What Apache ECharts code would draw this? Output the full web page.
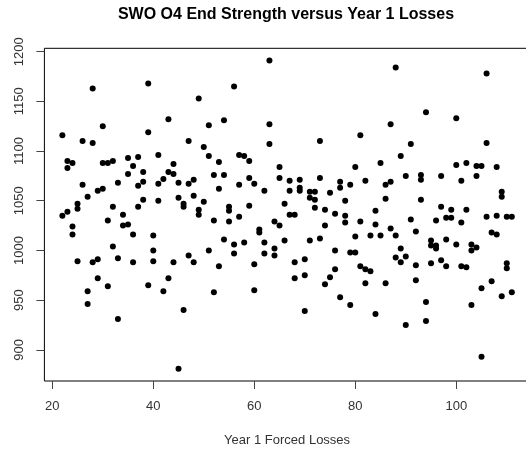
<!DOCTYPE html>
<html>
<head>
<meta charset="utf-8">
<script src="https://cdn.jsdelivr.net/npm/echarts@6/dist/echarts.min.js"></script>
<style>
  html, body { margin: 0; padding: 0; background: #fff; }
  #chart { width: 526px; height: 450px; }
</style>
</head>
<body>
<div id="chart"></div>
<script>
// Year 1 forced losses (x) and SWO O4 end strength (y), one entry per observation
const forcedLosses = [
  28, 39, 49, 43, 30, 22, 39, 26, 28, 47, 50, 23, 24, 23, 30, 31, 32, 35, 37, 41,
  44, 36, 35, 38, 43, 44, 26, 33, 37, 38, 41, 42, 45, 47, 48, 29, 30, 27, 25, 25,
  23, 22, 32, 37, 38, 41, 45, 46, 46, 48, 50, 49, 49, 31, 34,
  24, 24, 34, 35, 36, 40, 32, 40, 25, 28, 29, 33, 36, 40, 44, 47, 48, 29, 43, 27,
  31, 39, 42, 27, 33, 46, 45,
  63, 56, 51, 54, 63, 63, 81, 73, 51, 53, 57, 58, 59, 52, 54, 53, 57, 59, 60, 62,
  65, 65, 67, 69, 67, 69, 69, 73, 71, 72, 71, 72, 75, 77, 77, 79, 80, 82, 78, 66,
  59, 55, 55, 72, 74, 76, 78, 67, 68, 57, 52,
  55, 64, 65, 61, 61, 54, 51, 56, 56, 58, 62, 62, 64, 64, 66, 53, 60, 52, 60, 71,
  73, 74, 68, 70, 68, 70, 70, 78, 81, 80, 76, 79, 80, 76, 75, 74, 77, 79, 81, 82, 82,
  88, 106, 94, 100, 87, 91, 106, 89, 85, 100, 102, 104, 105, 108, 90, 93, 93, 97, 104, 86,
  87, 101, 86, 93, 84, 97, 99, 102, 109, 109, 106, 108, 110, 111, 91, 96, 98, 99,
  84, 83, 85, 87, 88, 92, 101, 107, 108, 89, 88, 89, 90, 95, 95, 96, 96, 98, 100, 103,
  104, 103, 83, 86, 92, 92, 95, 97, 98, 101, 102, 110, 110, 107, 105, 109, 111, 94, 94, 90,
  84, 103, 105
];
const endStrength = [
  1163, 1168, 1153, 1132, 1125, 1116, 1119, 1110, 1108, 1110, 1104, 1090, 1088, 1083, 1088, 1088, 1090, 1093, 1094, 1096,
  1087, 1085, 1077, 1079, 1079, 1077, 1066, 1068, 1065, 1069, 1067, 1072, 1068, 1067, 1071, 1060, 1062, 1054, 1047, 1042,
  1039, 1035, 1044, 1044, 1051, 1050, 1053, 1047, 1044, 1055, 1049, 1041, 1036, 1030, 1036,
  1024, 1016, 1025, 1026, 1016, 1015, 1004, 1000, 989, 988, 991, 992, 988, 989, 988, 995, 988, 972, 972, 959,
  964, 965, 959, 946, 931, 940, 881,
  1191, 1165, 1126, 1131, 1127, 1107, 1116, 1110, 1095, 1089, 1096, 1095, 1090, 1076, 1076, 1062, 1066, 1073, 1067, 1060,
  1084, 1073, 1070, 1071, 1060, 1063, 1060, 1073, 1059, 1059, 1053, 1051, 1058, 1069, 1063, 1066, 1084, 1070, 1050, 1047,
  1045, 1044, 1040, 1043, 1041, 1037, 1035, 1036, 1036, 1034, 1030,
  1029, 1029, 1025, 1021, 1018, 1011, 1000, 1006, 997, 1008, 1008, 997, 1002, 995, 1010, 984, 986, 958, 960, 1010,
  1012, 1025, 988, 991, 972, 975, 939, 1028, 1029, 1014, 1000, 998, 998, 981, 973, 966, 953, 945, 984, 981, 967,
  1184, 1178, 1139, 1133, 1127, 1107, 1108, 1095, 1088, 1086, 1088, 1085, 1085, 1084, 1075, 1076, 1071, 1075, 1075, 1066,
  1069, 1070, 1052, 1051, 1040, 1044, 1041, 1041, 1059, 1054, 1034, 1035, 1034, 1034, 1031, 1030, 1033, 1033,
  1026, 1015, 1015, 1022, 1015, 1019, 1028, 1018, 1016, 1002, 993, 988, 994, 1010, 1005, 1005, 1002, 1011, 1006, 1006,
  1003, 1000, 979, 967, 985, 970, 987, 990, 984, 984, 983, 987, 982, 969, 962, 954, 958, 948, 929, 925,
  936, 945, 893
];

// Tick positions on each axis
const xTicks = [20, 40, 60, 80, 100];
const yTicks = [900, 950, 1000, 1050, 1100, 1150, 1200];

const titleText = 'SWO O4 End Strength versus Year 1 Losses';
const xLabel = 'Year 1 Forced Losses';

const points = forcedLosses.map((x, i) => [x, endStrength[i]]);

// Pad the data range by 4% on each side, like a base-graphics plot region
function paddedRange(values) {
  const lo = Math.min(...values), hi = Math.max(...values);
  const pad = (hi - lo) * 0.04;
  return [lo - pad, hi + pad];
}
const [xMin, xMax] = paddedRange(forcedLosses);
const [yMin, yMax] = paddedRange(endStrength);

const font = '"Liberation Sans", Arial, sans-serif';
const plain = v => String(Math.round(v));
const chart = echarts.init(document.getElementById('chart'), null, { renderer: 'canvas' });

chart.setOption({
  animation: false,
  backgroundColor: '#ffffff',
  title: {
    text: titleText,
    left: 286,
    top: 7,
    textAlign: 'center',
    padding: 0,
    textStyle: { fontFamily: font, fontSize: 16, fontWeight: 'bold', color: '#000' }
  },
  grid: {
    left: 44.4,
    right: -3.8,
    top: 48.3,
    bottom: 69,
    show: true,
    borderColor: '#000',
    borderWidth: 1,
    backgroundColor: 'transparent',
    containLabel: false,
    outerBoundsMode: 'none'
  },
  xAxis: {
    type: 'value',
    min: xMin,
    max: xMax,
    name: xLabel,
    nameLocation: 'middle',
    nameGap: 53,
    nameTextStyle: { fontFamily: font, fontSize: 13, color: '#333' },
    axisLine: { show: false, onZero: false },
    axisTick: {
      show: true,
      inside: false,
      length: 8,
      customValues: xTicks,
      lineStyle: { color: '#444', width: 1 }
    },
    axisLabel: {
      customValues: xTicks,
      formatter: plain,
      margin: 19,
      fontFamily: font,
      fontSize: 13,
      color: '#333',
      showMinLabel: true,
      showMaxLabel: true
    },
    splitLine: { show: false }
  },
  yAxis: {
    type: 'value',
    min: yMin,
    max: yMax,
    axisLine: { show: false, onZero: false },
    axisTick: {
      show: true,
      inside: false,
      length: 8,
      customValues: yTicks,
      lineStyle: { color: '#444', width: 1 }
    },
    axisLabel: {
      customValues: yTicks,
      formatter: plain,
      rotate: 90,
      margin: 18,
      fontFamily: font,
      fontSize: 13,
      color: '#333',
      showMinLabel: true,
      showMaxLabel: true
    },
    splitLine: { show: false }
  },
  series: [{
    type: 'scatter',
    data: points,
    symbol: 'circle',
    symbolSize: 6,
    itemStyle: { color: '#000', opacity: 1 },
    clip: false
  }]
});
</script>
</body>
</html>
